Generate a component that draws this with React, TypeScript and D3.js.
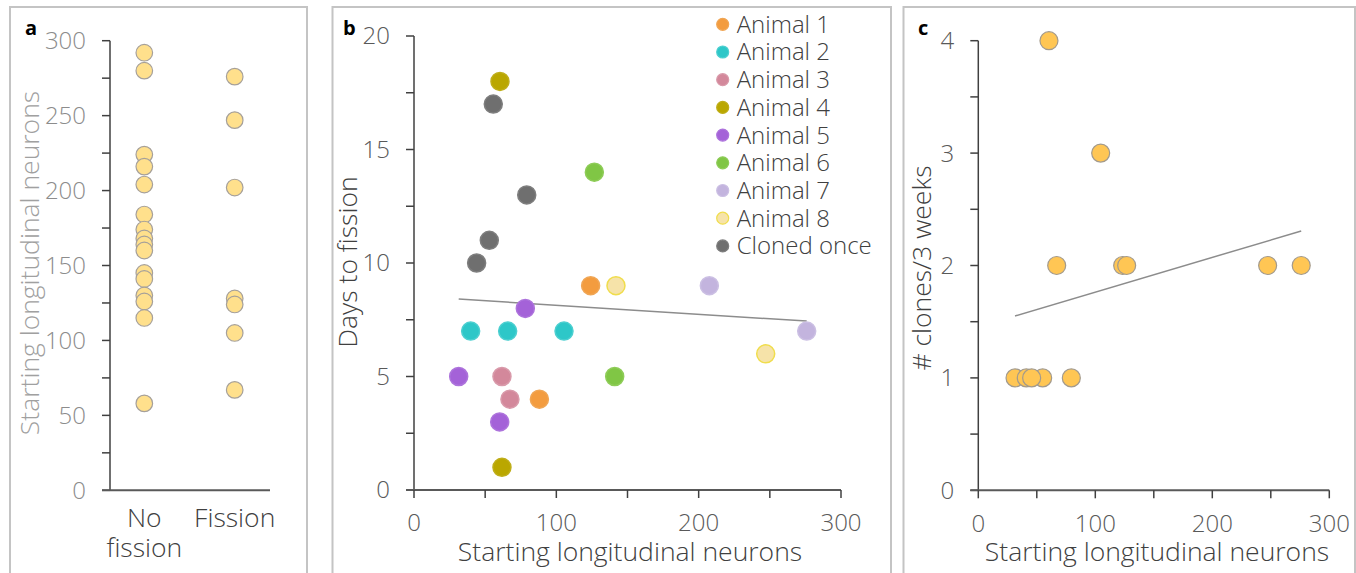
import React from "react";
import * as d3 from "d3";

// ---------- Panel a data ----------
const groupsA = ["No fission", "Fission"];
const noFission = [292, 280, 224, 216, 204, 184, 174, 168, 164, 160, 145, 141, 130, 126, 115, 58];
const fission = [276, 247, 202, 128, 124, 105, 67];
const ticksA = [0, 50, 100, 150, 200, 250, 300];

// ---------- Panel b data ----------
const animalNames = ["Animal 1", "Animal 2", "Animal 3", "Animal 4", "Animal 5", "Animal 6", "Animal 7", "Animal 8", "Cloned once"];
const animalFill = ["#F39C3F", "#2DC7C8", "#D3889B", "#BAA700", "#A462D8", "#80C645", "#C3B4DE", "#F6E3A9", "#6F6F6F"];
const animalStroke = ["#F0A655", "#4CCFD0", "#D99AAA", "#BFAE1A", "#AD73DC", "#8ECC58", "#CBBFE3", "#F0DD4C", "#7E7E7E"];
const neuronsB = [
  [124.1, 88.1],
  [39.8, 65.8, 105.4],
  [61.8, 67.4],
  [60.4, 61.8],
  [78.2, 31.4, 60.2],
  [126.7, 141],
  [207.5, 275.9],
  [141.9, 247.1],
  [55.7, 79.2, 52.9, 44],
];
const daysB = [
  [9, 4],
  [7, 7, 7],
  [5, 4],
  [18, 1],
  [8, 5, 3],
  [14, 5],
  [9, 7],
  [9, 6],
  [17, 13, 11, 10],
];
const trendBx = [31.4, 275.9];
const trendBy = [8.41, 7.44];
const ticksBy = [0, 5, 10, 15, 20];
const ticksX = [0, 100, 200, 300];

// ---------- Panel c data ----------
const neuronsC = [60.4, 104.6, 67, 123.4, 126.8, 247.3, 276, 31.4, 41, 55, 45.6, 79.5];
const clonesC = [4, 3, 2, 2, 2, 2, 2, 1, 1, 1, 1, 1];
const trendCx = [31.4, 276];
const trendCy = [1.551, 2.307];
const ticksCy = [0, 1, 2, 3, 4];

const FONT = "'Open Sans', 'Noto Sans', sans-serif";
const AXIS = "#404040";
const FRAME = "#C4C4C4";
const FW = 300;

function YAxis({ x, scale, majors, minors, labelColor, fontSize }: any) {
  const [r0, r1] = scale.range();
  return (
    <g>
      <line x1={x} x2={x} y1={r0} y2={r1} stroke={AXIS} strokeWidth={1.5} />
      {minors.map((t: number) => (
        <line key={"m" + t} x1={x - 8} x2={x} y1={scale(t)} y2={scale(t)} stroke={AXIS} strokeWidth={1.5} />
      ))}
      {majors.map((t: number) => (
        <text key={t} x={x - 24} y={scale(t)} dy="0.35em" textAnchor="end" fill={labelColor} fontSize={fontSize} fontWeight={FW} fontFamily={FONT}>
          {t}
        </text>
      ))}
    </g>
  );
}

function XAxis({ y, scale, majors, minors, fontSize, left }: any) {
  const [, r1] = scale.range();
  return (
    <g>
      <line x1={left} x2={r1} y1={y} y2={y} stroke="#595959" strokeWidth={2} />
      {minors.map((t: number) => (
        <line key={"m" + t} x1={scale(t)} x2={scale(t)} y1={y} y2={y + 8} stroke={AXIS} strokeWidth={1.5} />
      ))}
      {majors.map((t: number) => (
        <text key={t} x={scale(t)} y={y + 33} dy="0.35em" textAnchor="middle" fill="#595959" fontSize={fontSize} fontWeight={FW} fontFamily={FONT}>
          {t}
        </text>
      ))}
    </g>
  );
}

export default function App() {
  const yA = d3.scaleLinear().domain([0, 300]).range([490.3, 40.7]);
  const xA = d3.scalePoint().domain(groupsA).range([144.3, 234.7]);
  const xB = d3.scaleLinear().domain([0, 300]).range([414, 841]);
  const yB = d3.scaleLinear().domain([0, 20]).range([490, 36]);
  const xC = d3.scaleLinear().domain([0, 300]).range([978.3, 1329.3]);
  const yC = d3.scaleLinear().domain([0, 4]).range([490.3, 40.7]);

  const line = d3.line<[number, number]>();
  const minorsA = d3.range(0, 301, 25);
  const minorsBy = d3.range(0, 20.01, 2.5);
  const minorsX = d3.range(0, 301, 50);
  const minorsCy = d3.range(0, 4.01, 0.5);

  const fs = 24;
  const ft = 26.5;

  return (
    <svg width={1356} height={573} style={{ position: "absolute", left: 0, top: 0, background: "#fff" }}>
      <rect x={0} y={0} width={1356} height={573} fill="#fff" />
      <rect x={10} y={7} width={297} height={600} fill="none" stroke={FRAME} strokeWidth={2} />
      <rect x={332.5} y={7} width={558.5} height={600} fill="none" stroke={FRAME} strokeWidth={2} />
      <rect x={903.5} y={7} width={451.5} height={600} fill="none" stroke={FRAME} strokeWidth={2} />

      {/* ---------- Panel a ---------- */}
      <text x={25} y={35} fontSize={20} fontWeight="bold" fontFamily={FONT} fill="#000">a</text>
      <YAxis x={110} scale={yA} majors={ticksA} minors={minorsA} labelColor="#8C8C8C" fontSize={fs} />
      <line x1={102} x2={270} y1={yA(0)} y2={yA(0)} stroke="#595959" strokeWidth={2} />
      <text transform={`translate(39,263) rotate(-90)`} textAnchor="middle" fill="#A0A0A0" fontSize={ft} fontWeight={FW} fontFamily={FONT}>
        Starting longitudinal neurons
      </text>
      <text x={xA("No fission")} y={527} textAnchor="middle" fill="#404040" fontSize={ft} fontWeight={FW} fontFamily={FONT}>No</text>
      <text x={xA("No fission")} y={557} textAnchor="middle" fill="#404040" fontSize={ft} fontWeight={FW} fontFamily={FONT}>fission</text>
      <text x={xA("Fission")} y={527} textAnchor="middle" fill="#404040" fontSize={ft} fontWeight={FW} fontFamily={FONT}>Fission</text>
      {noFission.map((v, i) => (
        <circle key={"nf" + i} cx={xA("No fission")} cy={yA(v)} r={8.3} fill="#FFE08C" stroke="#A6A09A" strokeWidth={1.2} />
      ))}
      {fission.map((v, i) => (
        <circle key={"f" + i} cx={xA("Fission")} cy={yA(v)} r={8.3} fill="#FFE08C" stroke="#A6A09A" strokeWidth={1.2} />
      ))}

      {/* ---------- Panel b ---------- */}
      <text x={343} y={35} fontSize={20} fontWeight="bold" fontFamily={FONT} fill="#000">b</text>
      <YAxis x={xB(0)} scale={yB} majors={ticksBy} minors={minorsBy} labelColor="#595959" fontSize={fs} />
      <XAxis y={yB(0)} scale={xB} majors={ticksX} minors={minorsX} fontSize={fs} left={xB(0) - 8} />
      <text transform={`translate(357,262) rotate(-90)`} textAnchor="middle" fill="#404040" fontSize={ft} fontWeight={FW} fontFamily={FONT}>
        Days to fission
      </text>
      <text x={630} y={561} textAnchor="middle" fill="#404040" fontSize={ft} fontWeight={FW} fontFamily={FONT}>
        Starting longitudinal neurons
      </text>
      <path d={line(trendBx.map((x, i) => [xB(x), yB(trendBy[i])]) as any) || ""} fill="none" stroke="#8C8C8C" strokeWidth={1.5} />
      {neuronsB.map((arr, g) =>
        arr.map((x, i) => (
          <circle key={`b${g}-${i}`} cx={xB(x)} cy={yB(daysB[g][i])} r={9} fill={animalFill[g]} stroke={animalStroke[g]} strokeWidth={1.5} />
        ))
      )}
      {animalNames.map((n, i) => (
        <g key={n} transform={`translate(722.7,${24.3 + i * 27.7})`}>
          <circle cx={0} cy={0} r={6} fill={animalFill[i]} stroke={animalStroke[i]} strokeWidth={1.2} />
          <text x={14} y={0} dy="0.35em" fill="#404040" fontSize={24} fontWeight={FW} fontFamily={FONT}>{n}</text>
        </g>
      ))}

      {/* ---------- Panel c ---------- */}
      <text x={918} y={35} fontSize={20} fontWeight="bold" fontFamily={FONT} fill="#000">c</text>
      <YAxis x={xC(0)} scale={yC} majors={ticksCy} minors={minorsCy} labelColor="#595959" fontSize={fs} />
      <XAxis y={yC(0)} scale={xC} majors={ticksX} minors={minorsX} fontSize={fs} left={xC(0) - 8} />
      <text transform={`translate(931,268) rotate(-90)`} textAnchor="middle" fill="#404040" fontSize={ft} fontWeight={FW} fontFamily={FONT}>
        # clones/3 weeks
      </text>
      <text x={1157} y={561} textAnchor="middle" fill="#404040" fontSize={ft} fontWeight={FW} fontFamily={FONT}>
        Starting longitudinal neurons
      </text>
      <path d={line(trendCx.map((x, i) => [xC(x), yC(trendCy[i])]) as any) || ""} fill="none" stroke="#8C8C8C" strokeWidth={1.5} />
      {neuronsC.map((x, i) => (
        <circle key={"c" + i} cx={xC(x)} cy={yC(clonesC[i])} r={9} fill="#FFC654" stroke="#A39A8C" strokeWidth={1.2} />
      ))}
    </svg>
  );
}
